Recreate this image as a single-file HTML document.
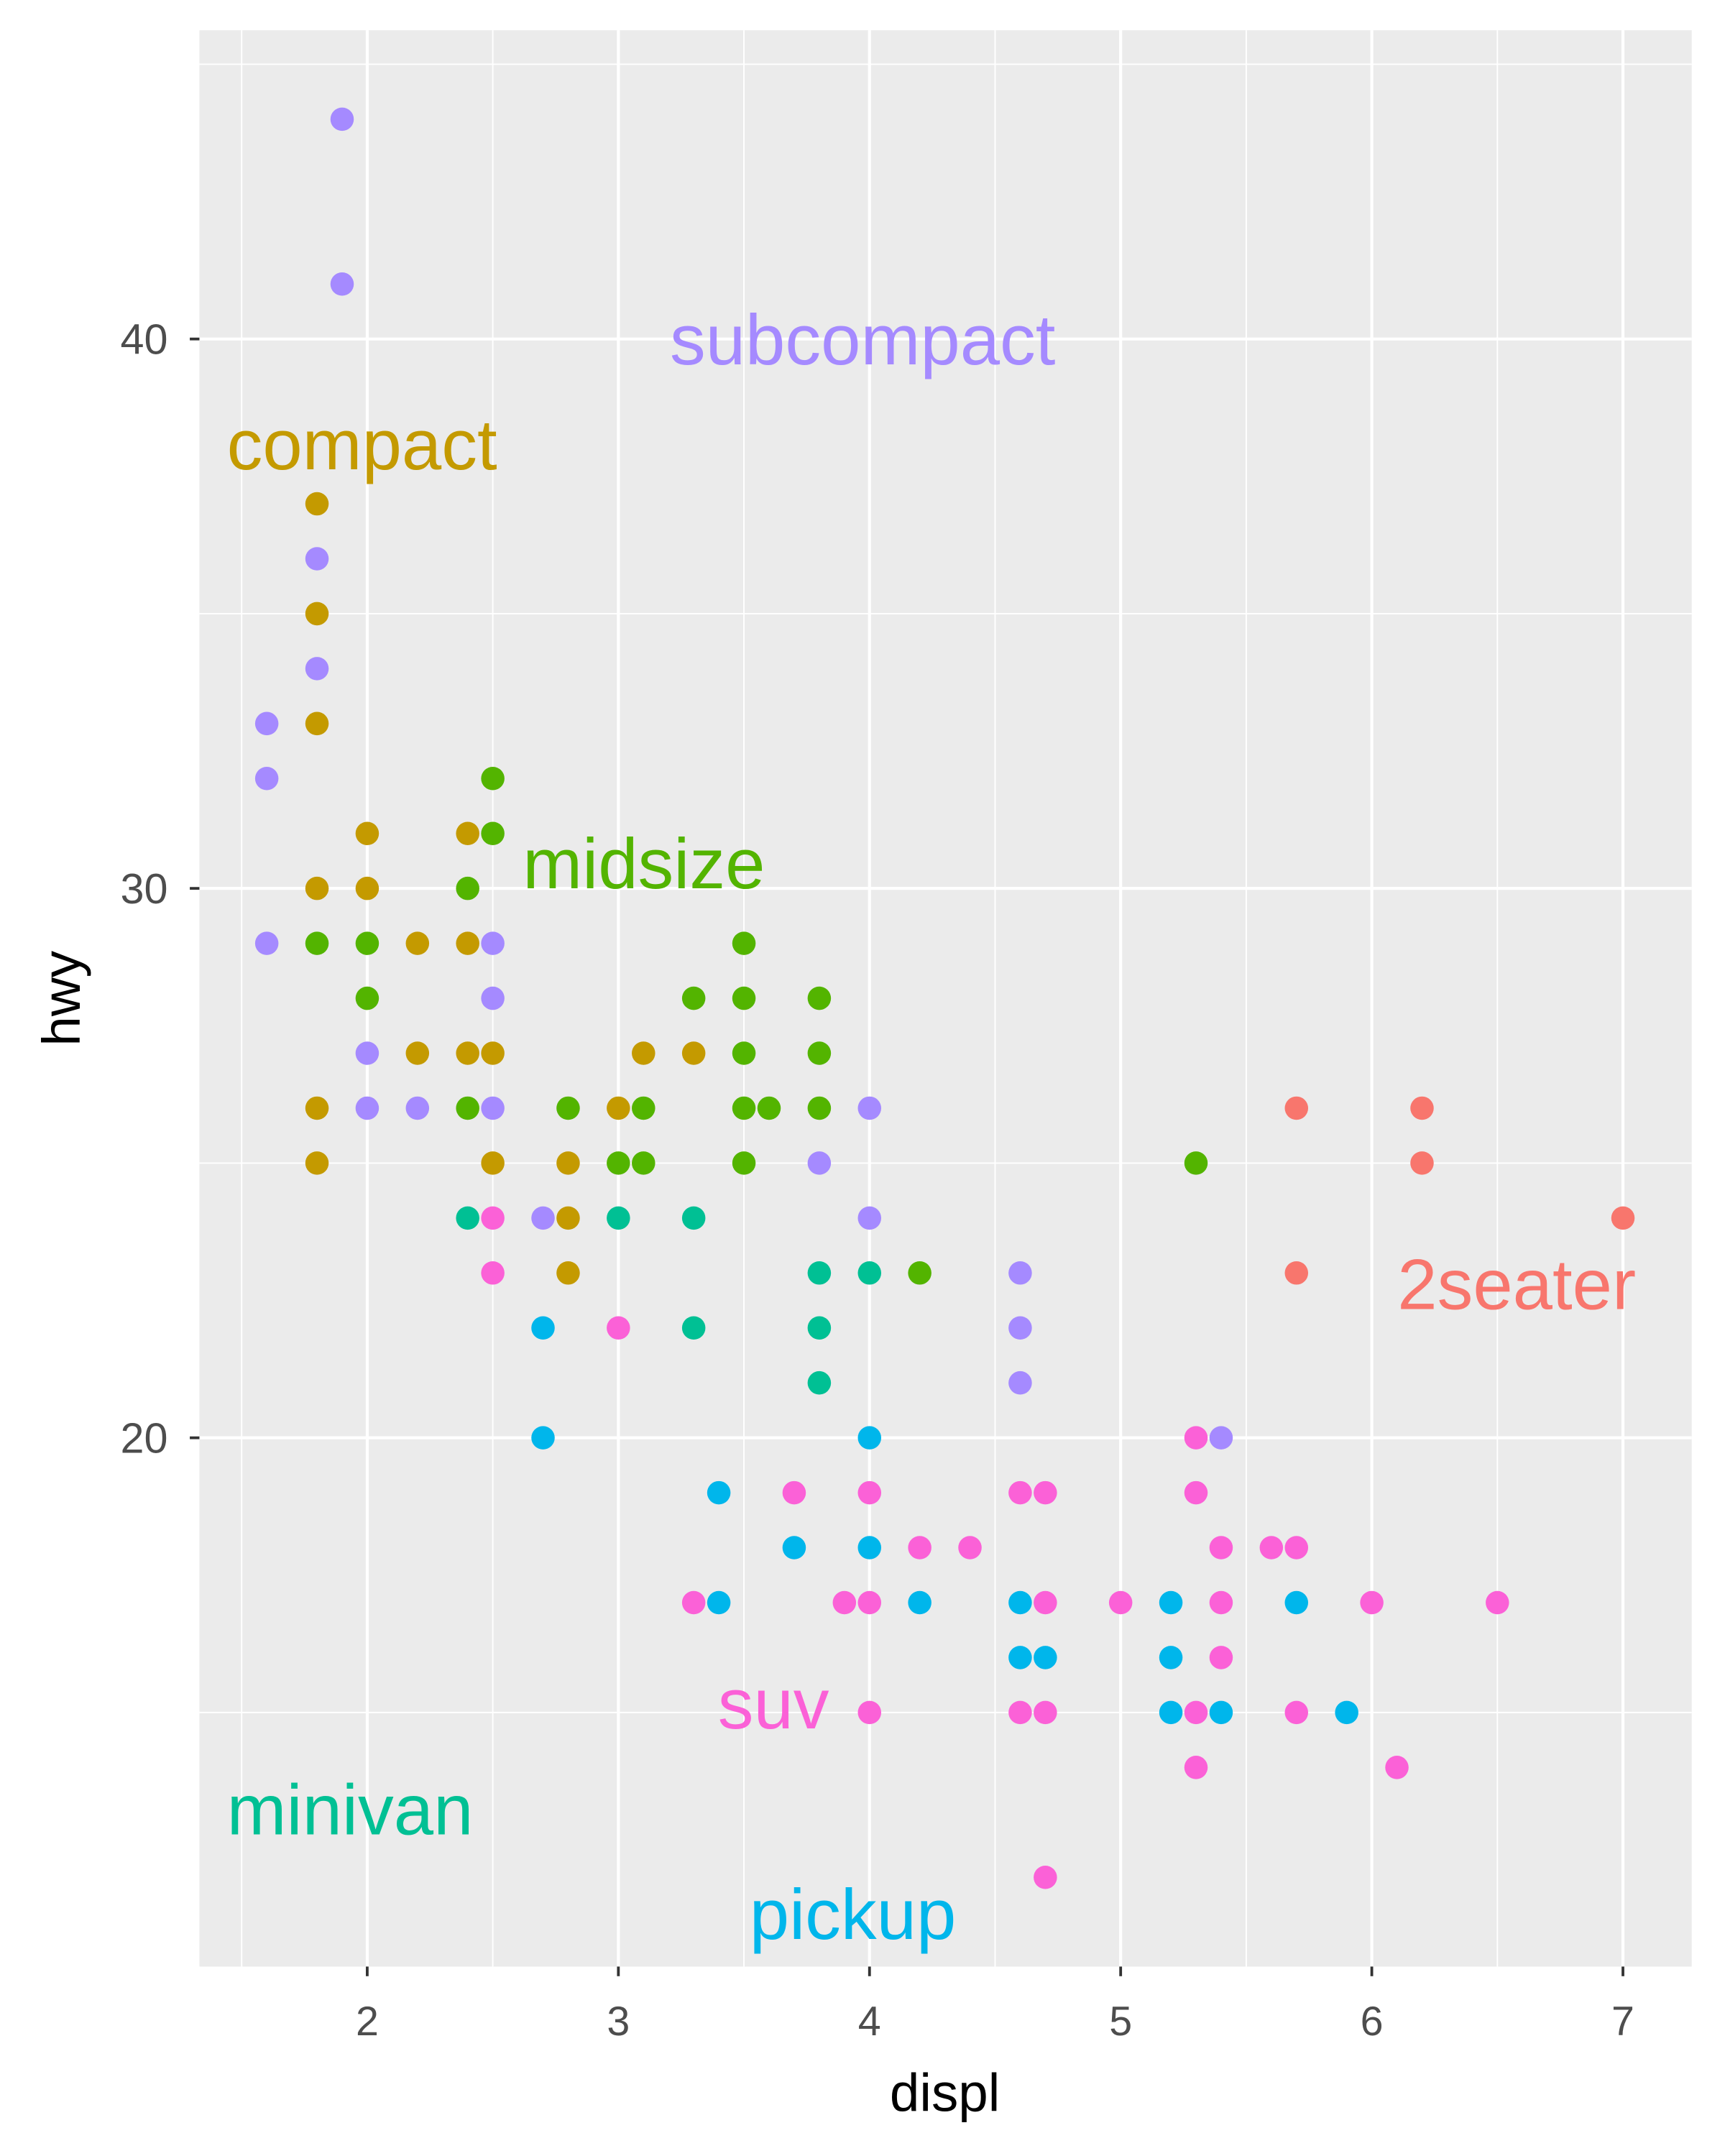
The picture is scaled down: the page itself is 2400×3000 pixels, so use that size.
<!DOCTYPE html>
<html><head><meta charset="utf-8">
<style>html,body{margin:0;padding:0;background:#fff}svg{display:block}</style>
</head><body>
<svg id="chart" width="2400" height="3000" viewBox="0 0 1254.2 1567.75" xmlns="http://www.w3.org/2000/svg" font-family="'Liberation Sans', Arial, sans-serif">
<rect x="145" y="22" width="1085" height="1408" fill="#EBEBEB"/>
<g id="grid"></g><g id="points"></g><g id="labels"></g><g id="axes"></g>
<text x="687" y="1535" font-size="39" text-anchor="middle" fill="#000">displ</text>
<text transform="translate(58,726) rotate(-90)" font-size="39" text-anchor="middle" fill="#000">hwy</text>
</svg>
<script>
const classes=["2seater","compact","midsize","minivan","pickup","subcompact","suv"];
const colors=["#F8766D","#C49A00","#53B400","#00C094","#00B6EB","#A58AFF","#FB61D7"];
const displ2seater=[5.7,6.2,6.2,7,5.7];
const hwy2seater=[26,26,25,24,23];
const displCompact=[1.8,1.8,1.8,2,2.4,1.8,2,2.2,2.4,2.2,2.4,2.5,3.1,3.3,1.8,3,2.8,2.5,1.8,2.8,2.8];
const hwyCompact=[37,35,33,31,31,30,30,29,29,27,27,27,27,27,26,26,25,25,25,24,23];
const displMidsize=[2.5,2.5,2.4,1.8,2,3.5,2,3.3,3.5,3.8,3.5,3.8,2.4,2.8,3.1,3.5,3.6,3.8,3,3.1,3.5,5.3,4.2];
const hwyMidsize=[32,31,30,29,29,29,28,28,28,28,27,27,26,26,26,26,26,26,25,25,25,25,23];
const displMinivan=[2.4,3,3.3,3.8,4,3.3,3.8,3.8];
const hwyMinivan=[24,24,24,23,23,22,22,21];
const displPickup=[2.7,2.7,4,3.4,3.7,4,3.4,4.2,4.6,5.2,5.7,4.6,4.7,5.2,5.2,5.4,5.9];
const hwyPickup=[22,20,20,19,18,18,17,17,17,17,17,16,16,16,15,15,15];
const displSubcompact=[1.9,1.9,1.8,1.8,1.6,1.6,1.6,2.5,2.5,2,2,2.2,2.5,4,3.8,2.7,4,4.6,4.6,4.6,5.4];
const hwySubcompact=[44,41,36,34,33,32,29,29,28,27,26,26,26,26,25,24,24,23,22,21,20];
const displSuv=[2.5,2.5,3,5.3,3.7,4,4.6,4.7,5.3,4.2,4.4,5.4,5.6,5.7,3.3,3.9,4,4.7,5,5.4,6,6.5,5.4,4,4.6,4.7,5.3,5.7,5.3,6.1,4.7];
const hwySuv=[24,23,22,20,19,19,19,19,19,18,18,18,18,18,17,17,17,17,17,17,17,17,16,15,15,15,15,15,14,14,12];
const seriesX=[displ2seater,displCompact,displMidsize,displMinivan,displPickup,displSubcompact,displSuv];
const seriesY=[hwy2seater,hwyCompact,hwyMidsize,hwyMinivan,hwyPickup,hwySubcompact,hwySuv];
const labelX=[6.102,1.441,2.619,1.441,3.522,3.205,3.396];
const labelY=[22.34,37.63,30,12.78,10.88,39.54,14.71];
const xTicks=[2,3,4,5,6,7];
const yTicks=[20,30,40];
const NS="http://www.w3.org/2000/svg";
const sx=v=>267+(v-2)*182.6, sy=v=>646-(v-30)*39.95;
function mk(t,a,p){const e=document.createElementNS(NS,t);for(const k in a)e.setAttribute(k,a[k]);p.appendChild(e);return e;}
const grid=document.getElementById('grid');
for(let v=1.5;v<=6.5;v+=1){const l=mk('line',{x1:sx(v),x2:sx(v),y1:22,y2:1430,stroke:'#fff','stroke-width':1},grid);

}
for(let v=15;v<=45;v+=10){const l=mk('line',{x1:145,x2:1230,y1:sy(v),y2:sy(v),stroke:'#fff','stroke-width':1},grid);

}
const axes=document.getElementById('axes');
xTicks.forEach(v=>{const l=mk('line',{x1:sx(v),x2:sx(v),y1:22,y2:1430,stroke:'#fff','stroke-width':2.2},grid);


const t=mk('line',{x1:sx(v),x2:sx(v),y1:1430,y2:1437,stroke:'#333','stroke-width':2},axes);


const tx=mk('text',{x:sx(v),y:1480,'font-size':30,'text-anchor':'middle',fill:'#4D4D4D'},axes);tx.textContent=v;

});
yTicks.forEach(v=>{const l=mk('line',{x1:145,x2:1230,y1:sy(v),y2:sy(v),stroke:'#fff','stroke-width':2.2},grid);


const t=mk('line',{x1:138,x2:145,y1:sy(v),y2:sy(v),stroke:'#333','stroke-width':2},axes);


const tx=mk('text',{x:122,y:sy(v)+11,'font-size':31,'text-anchor':'end',fill:'#4D4D4D'},axes);tx.textContent=v;

});
const pts=document.getElementById('points');
seriesX.forEach((xs,i)=>xs.forEach((x,j)=>{const c=mk('circle',{cx:sx(x),cy:sy(seriesY[i][j]),r:8.5,fill:colors[i]},pts);

}));
const lab=document.getElementById('labels');
classes.forEach((c,i)=>{const t=mk('text',{x:sx(labelX[i]),y:sy(labelY[i]),'font-size':52,'text-anchor':'start',fill:colors[i]},lab);t.textContent=c;

});
</script>
</body></html>
